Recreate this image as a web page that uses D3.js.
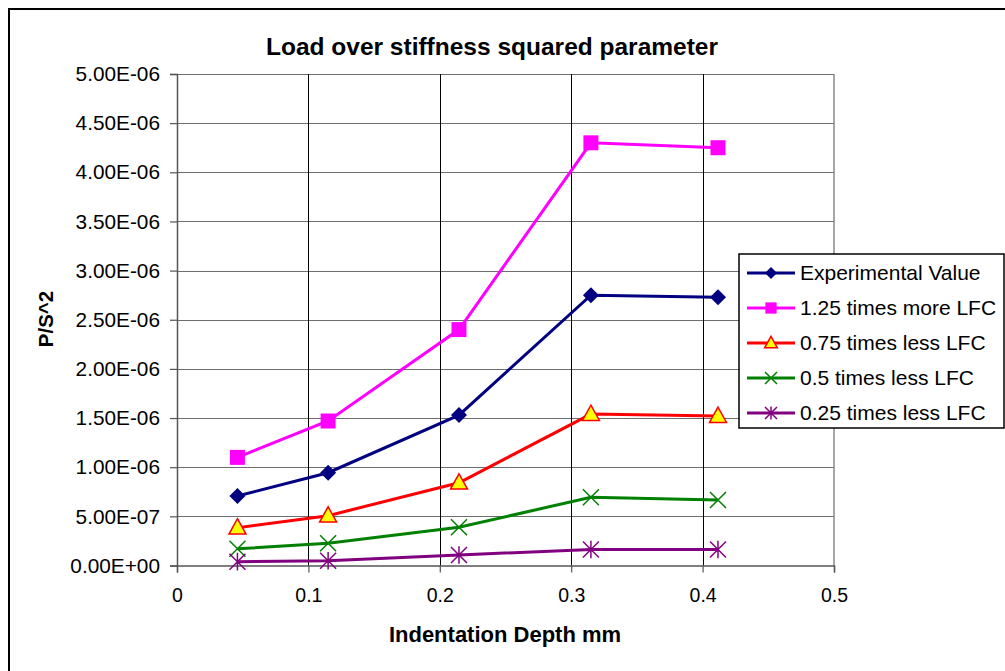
<!DOCTYPE html>
<html>
<head>
<meta charset="utf-8">
<script src="https://cdn.jsdelivr.net/npm/d3@7"></script>
<style>
  body { margin: 0; background: #fff; }
  text { font-family: "Liberation Sans", Arial, sans-serif; fill: #000; }
</style>
</head>
<body>
<div id="chart"></div>
<script>
// data
const depths = [0.046, 0.115, 0.2146, 0.315, 0.4117];
const experimental = [7.07e-7, 9.44e-7, 1.53e-6, 2.75e-6, 2.73e-6];
const times125More = [1.10e-6, 1.47e-6, 2.40e-6, 4.30e-6, 4.25e-6];
const times075Less = [3.85e-7, 5.07e-7, 8.42e-7, 1.54e-6, 1.52e-6];
const times05Less = [1.70e-7, 2.27e-7, 3.89e-7, 6.94e-7, 6.66e-7];
const times025Less = [3.9e-8, 4.8e-8, 1.07e-7, 1.63e-7, 1.63e-7];
const seriesNames = ["Experimental Value", "1.25 times more LFC", "0.75 times less LFC", "0.5 times less LFC", "0.25 times less LFC"];
const xTicks = [0, 0.1, 0.2, 0.3, 0.4, 0.5];
const yTicks = [0, 5e-7, 1e-6, 1.5e-6, 2e-6, 2.5e-6, 3e-6, 3.5e-6, 4e-6, 4.5e-6, 5e-6];

const series = [
  { name: seriesNames[0], values: experimental, color: "#000080", marker: "diamond" },
  { name: seriesNames[1], values: times125More, color: "#FF00FF", marker: "square" },
  { name: seriesNames[2], values: times075Less, color: "#FF0000", marker: "triangle" },
  { name: seriesNames[3], values: times05Less, color: "#008000", marker: "x" },
  { name: seriesNames[4], values: times025Less, color: "#800080", marker: "star" },
];

const W = 1005, H = 671;
const MARGIN = { LEFT: 177, TOP: 74, RIGHT: 834, BOTTOM: 565.5 };

const svg = d3.select("#chart").append("svg").attr("width", W).attr("height", H);

// outer frame
svg.append("rect")
  .attr("x", 9).attr("y", 9).attr("width", W + 10).attr("height", H + 10)
  .attr("fill", "#fff").attr("stroke", "#000").attr("stroke-width", 2);

const x = d3.scaleLinear().domain([0, 0.5]).range([MARGIN.LEFT, MARGIN.RIGHT]);
const y = d3.scaleLinear().domain([0, 5e-6]).range([MARGIN.BOTTOM, MARGIN.TOP]);

function sci(d) {
  if (d === 0) return "0.00E+00";
  const [m, e] = d.toExponential(2).split("e");
  const n = +e;
  return m + "E" + (n < 0 ? "-" : "+") + String(Math.abs(n)).padStart(2, "0");
}

// horizontal gridlines
svg.append("g").selectAll("line").data(yTicks.slice(1)).join("line")
  .attr("x1", MARGIN.LEFT).attr("x2", MARGIN.RIGHT)
  .attr("y1", (d) => Math.round(y(d)) + 0.5).attr("y2", (d) => Math.round(y(d)) + 0.5)
  .attr("stroke", "#6e6e6e").attr("stroke-width", 1.2);

// vertical gridlines
svg.append("g").selectAll("line").data(xTicks.slice(1, -1)).join("line")
  .attr("x1", (d) => Math.round(x(d)) + 0.5).attr("x2", (d) => Math.round(x(d)) + 0.5)
  .attr("y1", MARGIN.TOP).attr("y2", MARGIN.BOTTOM)
  .attr("stroke", "#000").attr("stroke-width", 1);

// right border of plot area
svg.append("line")
  .attr("x1", MARGIN.RIGHT).attr("x2", MARGIN.RIGHT)
  .attr("y1", MARGIN.TOP).attr("y2", MARGIN.BOTTOM)
  .attr("stroke", "#888").attr("stroke-width", 1.5);

// axes
const yAxis = svg.append("g")
  .attr("transform", `translate(${MARGIN.LEFT},0)`)
  .call(d3.axisLeft(y).tickValues(yTicks).tickFormat(sci).tickSizeOuter(0).tickSize(7).tickPadding(10));
const xAxis = svg.append("g")
  .attr("transform", `translate(0,${MARGIN.BOTTOM})`)
  .call(d3.axisBottom(x).tickValues(xTicks).tickFormat(d3.format("")).tickSizeOuter(0).tickSize(7).tickPadding(16));

[xAxis, yAxis].forEach((a) => {
  a.select(".domain").attr("stroke", "#555").attr("stroke-width", 1.5);
  a.selectAll(".tick line").attr("stroke", "#555").attr("stroke-width", 1.2);
  a.selectAll(".tick text").attr("font-family", "Liberation Sans, Arial, sans-serif");
});
yAxis.selectAll(".tick text").attr("font-size", 20.8);
xAxis.selectAll(".tick text").attr("font-size", 19.5);

// markers
function markerPath(type, s) {
  switch (type) {
    case "diamond": return `M0,${-s}L${s},0L0,${s}L${-s},0Z`;
    case "square": return `M${-s},${-s}H${s}V${s}H${-s}Z`;
    case "triangle": return `M0,${-s * 1.05}L${s},${s * 0.75}L${-s},${s * 0.75}Z`;
    case "x": return `M${-s},${-s}L${s},${s}M${s},${-s}L${-s},${s}`;
    case "star": return `M${-s},${-s}L${s},${s}M${s},${-s}L${-s},${s}M0,${-s * 1.1}V${s * 1.1}`;
  }
}
function styleMarker(sel, d) {
  if (d.marker === "triangle") {
    sel.attr("fill", "#FFFF00").attr("stroke", "#FF0000").attr("stroke-width", 1.5);
  } else if (d.marker === "x" || d.marker === "star") {
    sel.attr("fill", "none").attr("stroke", d.color).attr("stroke-width", 1.5);
  } else {
    sel.attr("fill", d.color).attr("stroke", "none");
  }
}
const markerSize = { diamond: 8, square: 7.5, triangle: 8.5, x: 8, star: 8 };

const line = d3.line().x((d) => x(d[0])).y((d) => y(d[1]));

series.forEach((s) => {
  const pts = depths.map((dx, i) => [dx, s.values[i]]);
  svg.append("path").datum(pts)
    .attr("d", line).attr("fill", "none")
    .attr("stroke", s.color).attr("stroke-width", 3);
});
series.forEach((s) => {
  const pts = depths.map((dx, i) => [dx, s.values[i]]);
  svg.append("g").selectAll("path").data(pts).join("path")
    .attr("transform", (d) => `translate(${x(d[0])},${y(d[1])})`)
    .attr("d", markerPath(s.marker, markerSize[s.marker]))
    .call(styleMarker, s);
});

// title
svg.append("text")
  .attr("x", 492).attr("y", 55)
  .attr("text-anchor", "middle")
  .attr("font-size", 24.5).attr("font-weight", "bold")
  .text("Load over stiffness squared parameter");

// axis labels
svg.append("text")
  .attr("x", 505).attr("y", 642)
  .attr("text-anchor", "middle")
  .attr("font-size", 22).attr("font-weight", "bold")
  .text("Indentation Depth mm");

svg.append("text")
  .attr("transform", "translate(52.5,319) rotate(-90)")
  .attr("text-anchor", "middle")
  .attr("font-size", 20.5).attr("font-weight", "bold")
  .text("P/S^2");

// legend
const legend = svg.append("g").attr("transform", "translate(739,254)");
legend.append("rect")
  .attr("width", 265).attr("height", 174)
  .attr("fill", "#fff").attr("stroke", "#000").attr("stroke-width", 1.5);

const items = legend.selectAll("g.item").data(series).join("g")
  .attr("class", "item")
  .attr("transform", (d, i) => `translate(0,${19 + i * 35})`);
items.append("line")
  .attr("x1", 8).attr("x2", 56)
  .attr("stroke", (d) => d.color).attr("stroke-width", 3);
items.each(function (d) {
  d3.select(this).append("path")
    .attr("transform", "translate(32,0)")
    .attr("d", markerPath(d.marker, markerSize[d.marker] * 0.75))
    .call(styleMarker, d);
});
items.append("text")
  .attr("x", 61).attr("y", 0).attr("dy", "0.35em")
  .attr("font-size", 21)
  .text((d) => d.name);
</script>
</body>
</html>
